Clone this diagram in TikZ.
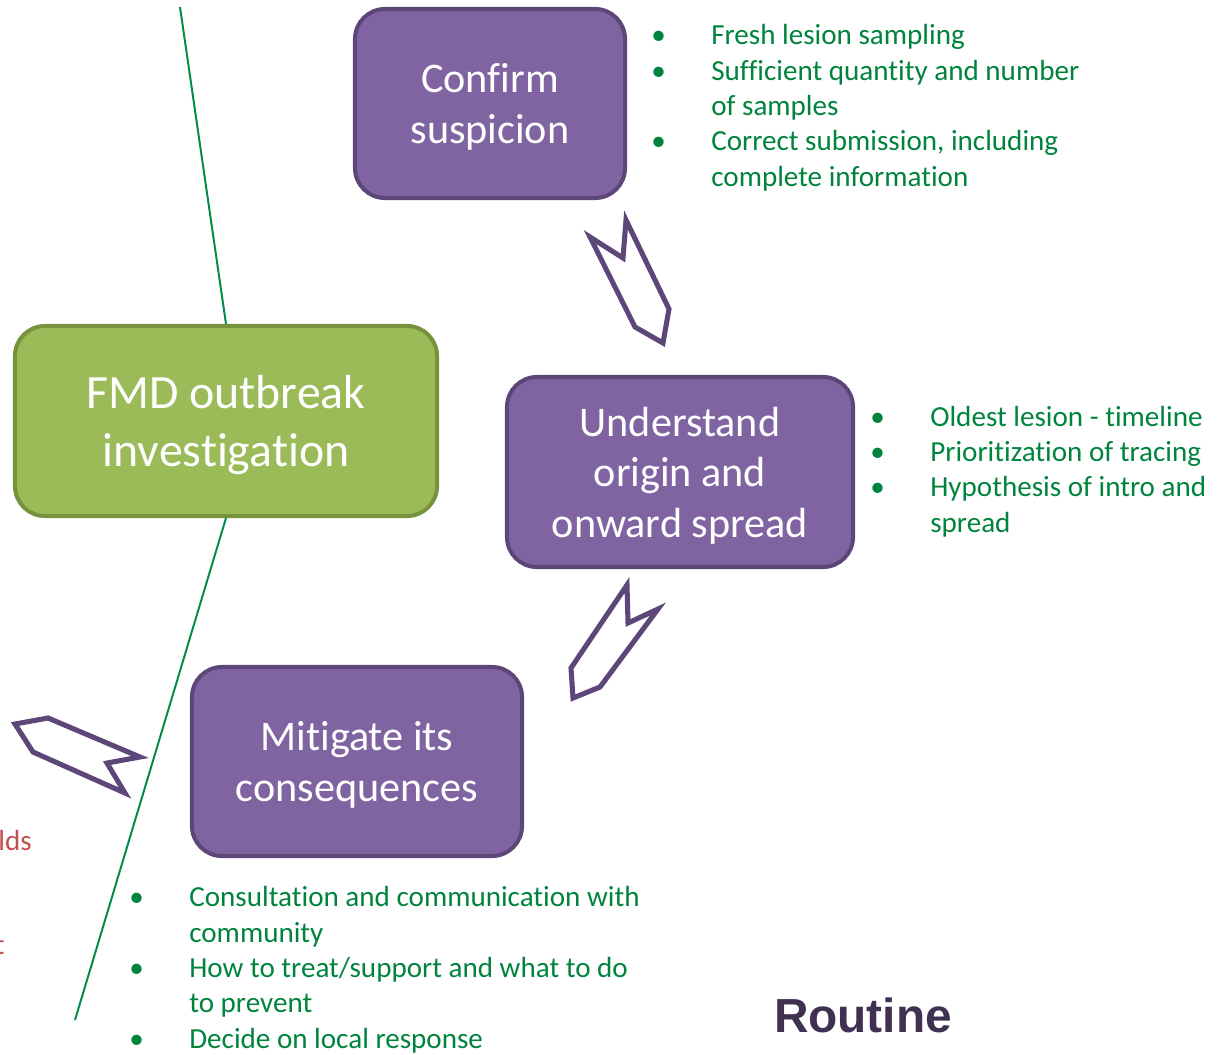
\documentclass[tikz,border=0pt]{standalone}
\usepackage{fontspec}
\setmainfont{Carlito}[Ligatures=NoCommon]
\newfontfamily\routinefont{Liberation Sans}
\usetikzlibrary{backgrounds}
\definecolor{boxpurple}{RGB}{128,100,162}
\definecolor{edgepurple}{RGB}{93,71,120}
\definecolor{boxgreen}{RGB}{155,187,89}
\definecolor{edgegreen}{RGB}{118,146,60}
\definecolor{listgreen}{RGB}{0,132,61}
\definecolor{linegreen}{RGB}{0,140,70}
\definecolor{redtext}{RGB}{192,80,77}
\definecolor{titlepurple}{RGB}{64,49,82}
\newcommand{\bul}{\makebox[42.7pt][l]{\textbullet}}
\newcommand{\ind}{\hspace*{42.7pt}}
\begin{document}
\begin{tikzpicture}[x=0.025cm,y=-0.025cm]
            \tikzstyle{stepbox} = [draw=edgepurple, fill=boxpurple, line width=2.85pt, rounded corners=0.75cm, text=white, text depth=0pt, align=center, font=\fontsize{30}{36}\selectfont]
            \tikzstyle{mainbox} = [stepbox, draw=edgegreen, fill=boxgreen, font=\fontsize{34}{41}\selectfont]
            \tikzstyle{notes} = [inner sep=0, anchor=base west, align=left, text=listgreen, font=\fontsize{20.7}{25.1}\selectfont]
            \tikzstyle{cut} = [inner sep=0, anchor=base east, text=redtext, font=\fontsize{20.7}{25.1}\selectfont]
            \tikzstyle{chevron} = [draw=edgepurple, fill=white, line width=3.6pt]
            \useasboundingbox (0,0) rectangle (1224,1054);
            \coordinate (lineTop) at (180,7);
            \coordinate (lineBot) at (75,1020);
            \node[mainbox, minimum width=10.55cm, minimum height=4.75cm] (fmd) at (226,421) {FMD outbreak\\investigation};
            \node[stepbox, minimum width=6.75cm, minimum height=4.725cm] (confirm) at (490,103.5) {Confirm\\suspicion};
            \node[stepbox, minimum width=8.65cm, minimum height=4.75cm] (origin) at (680,472) {Understand\\origin and\\onward spread};
            \node[stepbox, minimum width=8.25cm, minimum height=4.725cm] (mitigate) at (357,761.5) {Mitigate its\\consequences};
            \begin{scope}[on background layer]
            \draw[linegreen, line width=1.4pt] (lineTop) -- (fmd.north);
            \draw[linegreen, line width=1.4pt] (fmd.south) -- (lineBot);
            \end{scope}
            % block arrows between the steps
            \draw[chevron] (590,237) -- (623,258) -- (626,220) -- (669,309) -- (663,343) -- (635,327) -- cycle;
            \draw[chevron] (627,585) -- (628,623) -- (658,609) -- (600,687) -- (573,698) -- (571,668) -- cycle;
            \draw[chevron] (15,724) -- (48,718) -- (140,757) -- (107,763) -- (125,793) -- (33,752) -- cycle;
            % notes
            \node[notes] (confirmNotes) at (651,186) {\bul Fresh lesion sampling\\ \bul Sufficient quantity and number\\ \ind of samples\\ \bul Correct submission, including\\ \ind complete information};
            \node[notes] (originNotes) at (870,532) {\bul Oldest lesion - timeline\\ \bul Prioritization of tracing\\ \bul Hypothesis of intro and\\ \ind spread};
            \node[notes] (mitigateNotes) at (129,1048) {\bul Consultation and communication with\\ \ind community\\ \bul How to treat/support and what to do\\ \ind to prevent\\ \bul Decide on local response};
            \node[cut] (cutA) at (32,850) {lds};
            \node[cut] (cutB) at (5,954) {t};
            \node[text=titlepurple, font=\routinefont\bfseries\fontsize{34}{40}\selectfont] (routine) at (863,1015) {Routine};
\end{tikzpicture}
\end{document}
